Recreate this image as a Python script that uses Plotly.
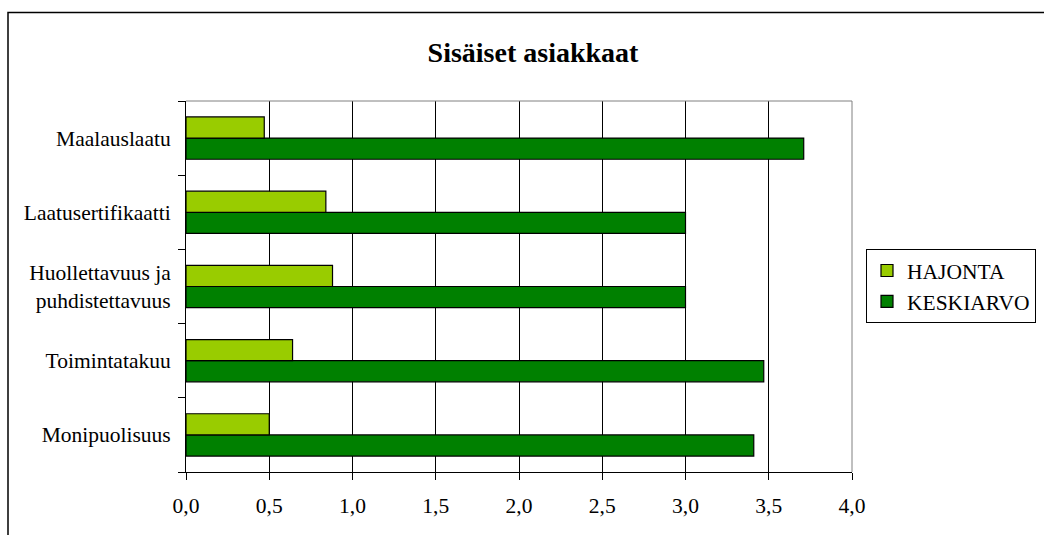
import plotly.graph_objects as go

# Categories listed bottom-to-top as they appear on the y axis
categories = [
    "Monipuolisuus",
    "Toimintatakuu",
    "Huollettavuus ja<br>puhdistettavuus",
    "Laatusertifikaatti",
    "Maalauslaatu",
]
keskiarvo = [3.41, 3.47, 3.00, 3.00, 3.71]
hajonta = [0.50, 0.64, 0.88, 0.84, 0.47]
x_ticks = [0.0, 0.5, 1.0, 1.5, 2.0, 2.5, 3.0, 3.5, 4.0]

W, H = 1044, 535
L, R, T, B = 186, 192, 101, 63
PW, PH = W - L - R, H - T - B


def px_x(p):
    return (p - L) / PW


def px_y(p):
    return 1 - (p - T) / PH


FONT = "Liberation Serif, Times New Roman, serif"
FS = 21.5

fig = go.Figure()
fig.add_trace(go.Bar(
    y=categories, x=keskiarvo, orientation="h", name="KESKIARVO",
    legendgroup="k", legendrank=2,
    marker=dict(color="#008000", line=dict(color="#000000", width=1.2)),
))
fig.add_trace(go.Bar(
    y=categories, x=hajonta, orientation="h", name="HAJONTA",
    legendgroup="h", legendrank=1,
    marker=dict(color="#99CC00", line=dict(color="#000000", width=1.2)),
))

fig.update_layout(
    width=W, height=H,
    margin=dict(l=L, r=R, t=T, b=B, autoexpand=False),
    paper_bgcolor="white", plot_bgcolor="white",
    barmode="group", bargap=0.43, bargroupgap=0,
    separators=",.",
    font=dict(family=FONT, size=FS, color="#000000"),
    title=dict(
        text="<b>Sisäiset asiakkaat</b>",
        font=dict(family=FONT, size=28, color="#000000"),
        x=px_x(533), xref="paper", xanchor="center",
        y=1 - 52 / H, yanchor="middle",
    ),
    legend=dict(
        x=px_x(866), y=px_y(249), xanchor="left", yanchor="top",
        traceorder="grouped", tracegroupgap=0,
        bordercolor="#000000", borderwidth=1, bgcolor="white",
        font=dict(family=FONT, size=FS),
        itemwidth=30,
    ),
    showlegend=True,
    xaxis=dict(
        range=[0, 4], tickvals=x_ticks, tickformat=".1f",
        showgrid=True, gridcolor="#000000", gridwidth=1,
        showline=True, linecolor="#000000", linewidth=1,
        ticks="outside", ticklen=7, tickcolor="#000000",
        ticklabelstandoff=7,
        zeroline=False,
        fixedrange=True,
    ),
    yaxis=dict(
        categoryorder="array", categoryarray=categories,
        showline=True, linecolor="#000000", linewidth=1,
        ticks="outside", ticklen=7, tickcolor="#000000",
        tickson="boundaries", ticklabelstandoff=10,
        showgrid=False, zeroline=False,
        fixedrange=True,
    ),
    shapes=[
        # outer chart frame
        dict(type="rect", xref="paper", yref="paper",
             x0=px_x(8), x1=px_x(W + 20), y0=px_y(H + 20), y1=px_y(12.5),
             line=dict(color="#000000", width=1.5), fillcolor="rgba(0,0,0,0)",
             layer="below"),
        # top and right edges of the plot area
        dict(type="line", xref="paper", yref="paper", x0=0, x1=1, y0=1, y1=1,
             line=dict(color="#808080", width=1)),
        dict(type="line", xref="paper", yref="paper", x0=1, x1=1, y0=0, y1=1,
             line=dict(color="#808080", width=1)),
    ],
)

fig.write_html("out.html")
